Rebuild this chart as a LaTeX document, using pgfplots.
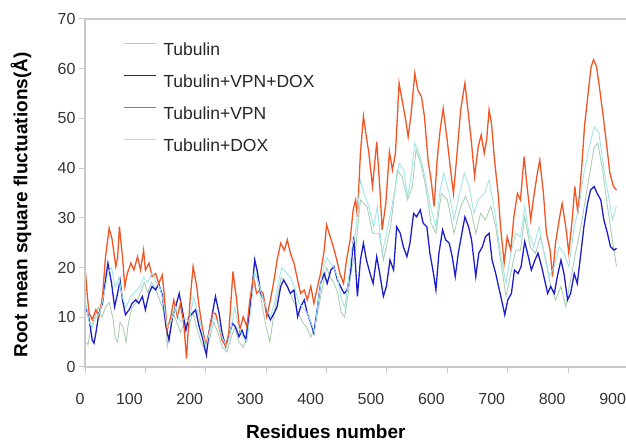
\documentclass[border=0pt]{standalone}
\usepackage{pgfplots}
\pgfplotsset{compat=1.18}
\usepackage{fontspec}
\setmainfont{Liberation Sans}
\definecolor{cTub}{RGB}{170,205,180}
\definecolor{cVD}{RGB}{30,30,200}
\definecolor{cVPN}{RGB}{240,85,35}
\definecolor{cDOX}{RGB}{160,230,230}
\definecolor{axgray}{RGB}{200,200,200}
\begin{document}
\begin{tikzpicture}
\begin{axis}[
  at={(85pt,76pt)}, anchor=south west,
  scale only axis, width=543.6pt, height=348pt,
  xmin=0, xmax=900, ymin=0, ymax=70,
  clip=false,
  axis line style={draw=none},
  tick pos=left, tick align=outside,
  major tick length=6pt,
  major tick style={axgray, line width=1pt},
  xtick={0,100,...,900},
  xticklabels={{\kern22pt 0},100,200,300,400,500,600,700,800,900},
  xticklabel style={xshift=-16pt, yshift=-17pt},
  ytick={0,10,...,70},
  /pgf/number format/assume math mode=true,
  ticklabel style={font=\fontsize{16}{16}\selectfont, text=black!80},
  xlabel={Residues number},
  xlabel style={at={(axis description cs:0.443,-0.187)}, anchor=center, font=\fontsize{19}{19}\selectfont\bfseries},
  ylabel={Root mean square fluctuations(Å)},
  ylabel style={at={(axis description cs:-0.1177,0.466)}, anchor=center, font=\fontsize{19}{19}\selectfont\bfseries},
  legend cell align=left,
  legend style={at={(axis description cs:0.0700,0.9318)}, anchor=north west,
    draw=none, fill=none, inner sep=0pt, outer sep=0pt,
    row sep=19pt, column sep=7pt,
    font=\fontsize{17.5}{17.5}\selectfont, text=black!85,
    nodes={inner sep=0pt, text height=12.5pt, text depth=0pt}},
  legend image code/.code={\draw[#1] (0pt,6.25pt) -- (32pt,6.25pt);},
]
\addplot[cTub, line width=0.9pt] coordinates {
(1,5) (5,4.5) (10,8) (16,10) (22,12) (28,10) (34,12) (40,13) (46,10) (50,6) (54,5) (58,9) (63,8) (68,5) (72,9) (78,12) (85,13) (92,15) (98,17) (104,15) (110,17) (116,16) (122,14) (128,12) (134,10) (136,4.1) (140,7) (146,11) (152,9) (158,7) (165,9) (172,8) (178,11) (185,8) (192,5) (200,3) (207,6) (213,9) (220,7) (227,4) (235,3) (242,6) (248,8) (255,5) (262,4) (268,6) (275,14) (281,22) (288,16) (294,12) (300,8) (306,5) (312,10) (318,14) (325,18) (332,17) (339,15) (346,13) (353,11) (360,9) (367,8) (374,6) (380,8) (387,12) (393,16) (400,20) (406,18) (412,17) (418,15) (424,11) (430,10) (436,15) (442,20) (448,23.5) (456,33.6) (467,32.3) (476,26.9) (487,26.9) (494,21.5) (506,28.2) (517,39.6) (525,38.3) (534,33.6) (542,36.3) (548,43.7) (556,41) (564,36.3) (573,28.9) (581,26.9) (590,34.9) (600,33.6) (611,26.9) (622,32.3) (630,34.3) (639,31.6) (647,26.9) (655,30.9) (663,29.6) (672,32.3) (680,28.2) (688,21.5) (697,14.2) (705,18.8) (713,23.5) (721,23.5) (728,30.2) (737,24.2) (746,22.9) (754,26.2) (763,21.5) (771,16.2) (779,13.5) (788,16.2) (796,12.1) (804,17.5) (812,22.9) (821,28.2) (832,36.3) (843,44.3) (849,45) (857,39.6) (865,32.3) (873,25.6) (880,20.2)
};
\addlegendentry{Tubulin}
\addplot[cVD, line width=1.3pt] coordinates {
(1,12.1) (4,11) (7,9.5) (12,5.4) (15,4.8) (18,6.8) (23,10.8) (29,12.8) (34,17.5) (38,20.9) (44,16.8) (49,12.1) (54,14.8) (58,17.5) (62,13.5) (67,10.5) (73,11.5) (78,12.8) (84,13.5) (89,12.8) (95,14.2) (100,11.5) (106,14.8) (111,16.2) (117,15.5) (122,16.8) (128,14.5) (134,8.1) (139,5.4) (145,10.1) (150,12.1) (156,14.8) (161,11.5) (167,7.4) (172,10.1) (178,10.8) (183,11.5) (189,8.1) (194,6.1) (201,2.4) (205,6.8) (211,10.8) (216,14.2) (222,10.8) (227,6.8) (233,4.1) (238,6.1) (244,8.8) (249,8.1) (255,6.1) (260,7.4) (266,5.4) (272,10.8) (277,16.2) (281,21.5) (285,19.5) (291,14.8) (296,13.5) (302,10.8) (307,9.5) (313,10.8) (318,12.1) (324,16.2) (329,17.5) (335,16.2) (340,14.8) (346,15.5) (352,10.1) (357,12.1) (363,13.5) (368,10.8) (374,8.8) (379,6.8) (385,12.1) (390,16.8) (396,18.8) (401,16.8) (407,19.5) (412,20.2) (418,17.5) (423,16.2) (429,14.8) (434,15.5) (440,19.5) (445,26.2) (451,14.2) (456,21.5) (461,24.9) (466,21.5) (472,18.8) (477,16.8) (483,22.2) (488,18.8) (494,14.2) (499,16.2) (505,21.5) (511,19.5) (516,28.2) (522,26.9) (527,24.2) (533,22.2) (538,24.9) (544,30.9) (549,30.2) (555,31.6) (560,28.9) (566,28.2) (571,22.9) (577,18.8) (581,15.5) (586,22.9) (592,27.6) (597,25.6) (603,24.9) (608,22.2) (613,18.2) (618,22.9) (624,26.9) (629,30.2) (635,28.2) (640,25.6) (647,18.2) (652,22.9) (658,24.2) (663,26.2) (669,26.9) (674,21.5) (680,18.8) (686,15.5) (691,12.8) (695,10.5) (700,13.5) (706,14.8) (711,19.5) (717,18.8) (722,20.2) (728,25.2) (734,22.2) (739,19.5) (745,21.5) (750,22.9) (756,20.2) (761,17.5) (766,14.8) (771,16.2) (777,14.8) (782,18.2) (788,21.5) (793,18.8) (799,13.5) (804,14.8) (810,18.8) (815,16.8) (821,22.9) (826,28.2) (832,32.9) (837,35.6) (843,36.3) (848,34.9) (854,33.6) (859,29.6) (865,26.9) (870,24.2) (876,23.5) (880,23.9)
};
\addlegendentry{Tubulin+VPN+DOX}
\addplot[cVPN, line width=1.3pt] coordinates {
(1,18.8) (4,14) (7,10.8) (12,9.5) (18,11.5) (23,10.1) (29,14.2) (34,22.2) (40,27.9) (45,25.6) (51,20.2) (54,22) (57,28.2) (62,22.2) (66,16.2) (70,18.8) (76,20.9) (81,19.5) (87,22.2) (92,19.5) (97,23.5) (100,19.5) (106,20.9) (111,18.2) (117,18.8) (122,16.8) (128,18.5) (131,14.8) (136,7.4) (142,10.1) (147,13.5) (153,10.1) (158,12.8) (164,8.1) (168,1.7) (174,13.5) (179,20.2) (185,16.2) (189,12.1) (194,8.1) (200,4.4) (205,6.8) (211,10.8) (216,10.8) (222,8.1) (227,5.4) (233,4.1) (238,6.8) (245,19.2) (251,13.5) (256,7.4) (262,10.1) (268,8.1) (273,13.5) (279,18.2) (284,14.8) (290,15.5) (295,14.8) (301,10.1) (307,13.5) (313,17.5) (318,21.5) (324,24.9) (330,23.5) (335,25.6) (340,22.9) (346,20.9) (352,17.5) (357,14.8) (363,15.5) (368,13.5) (374,16.2) (379,12.8) (385,16.2) (390,18.8) (396,23.5) (400,28.6) (406,26.2) (411,24.2) (417,21.5) (422,18.8) (428,16.8) (433,21.5) (439,25.6) (444,31.6) (448,33.6) (451,30.2) (456,43) (461,50.4) (465,47) (470,43) (476,36.3) (483,45.3) (488,36.3) (492,27.6) (498,32.9) (504,43.3) (509,39.6) (514,43) (520,57.1) (525,53.7) (531,49.7) (535,46.3) (540,51) (546,59.1) (551,55.7) (557,54.4) (562,50.4) (568,41.6) (573,37.6) (578,32.3) (583,41.6) (588,47.7) (593,52) (599,46.3) (604,41) (610,34.9) (615,41.6) (622,51.7) (629,57.1) (634,51.7) (640,45) (645,38.3) (651,44.3) (656,46.7) (661,43) (665,45.7) (669,51.7) (673,49) (678,41.6) (684,34.9) (688,28.2) (694,20.9) (699,26.2) (705,23.5) (710,30.2) (716,34.9) (721,33.6) (727,42.3) (732,36.3) (738,29.6) (743,34.3) (749,39) (753,41.6) (759,34.9) (764,26.9) (770,23.5) (774,18.2) (779,24.9) (785,29.6) (790,32.9) (796,28.2) (801,22.9) (807,30.2) (811,36.3) (816,30.9) (822,39.6) (827,48.4) (833,55.1) (838,60.4) (842,61.8) (847,60.4) (853,55.1) (858,50.4) (864,44.3) (869,39) (875,36.3) (880,35.6)
};
\addlegendentry{Tubulin+VPN}
\addplot[cDOX, line width=0.9pt] coordinates {
(1,13) (7,9) (12,8) (18,10) (25,11) (32,15) (38,19) (44,20) (50,16) (56,18) (62,14) (68,12) (75,14) (82,15) (90,16) (97,18) (104,17) (111,19) (118,17) (124,16) (130,13) (136,8) (142,9) (150,12) (158,9) (165,10) (172,9) (180,14) (187,11) (194,7) (200,4) (206,7) (213,10) (220,9) (227,6) (235,4) (242,8) (248,12) (254,8) (262,6) (268,5) (275,12) (281,19) (287,17) (294,14) (300,12) (307,10) (314,13) (320,17) (326,20) (333,19) (340,18) (347,16) (354,13) (360,12) (367,11) (374,9) (380,7) (387,14) (393,19) (400,22) (406,21) (412,20) (418,18) (424,14) (430,12) (436,17) (442,24) (448,27) (456,37.6) (462,34.9) (470,32.3) (478,28.2) (484,32.3) (492,22.9) (498,26.2) (506,30.9) (514,36.3) (520,41) (528,39.6) (534,34.3) (539,37.6) (546,45) (553,43) (559,40.3) (564,37.6) (572,32.3) (581,28.2) (588,35.6) (594,39) (603,34.9) (611,29.6) (619,34.3) (628,39) (636,36.3) (644,30.9) (651,33.6) (661,34.9) (669,37.6) (677,32.3) (688,22.9) (697,16.8) (705,22.9) (713,26.9) (721,26.2) (728,32.3) (735,26.9) (743,24.2) (752,28.2) (760,22.9) (768,18.2) (777,20.2) (785,24.2) (793,22.9) (801,20.2) (810,28.2) (818,32.3) (826,39) (834,43.7) (843,48.4) (851,47) (857,41.6) (862,37.6) (868,33.6) (873,29.6) (880,32.3)
};
\addlegendentry{Tubulin+DOX}
\draw[axgray, line width=1.2pt] (rel axis cs:1,1) -- (rel axis cs:0,1) -- (rel axis cs:0,0) -- (rel axis cs:1,0);
\end{axis}
\pgfresetboundingbox
\useasboundingbox (0,0) rectangle (626pt,443pt);
\end{tikzpicture}
\end{document}
